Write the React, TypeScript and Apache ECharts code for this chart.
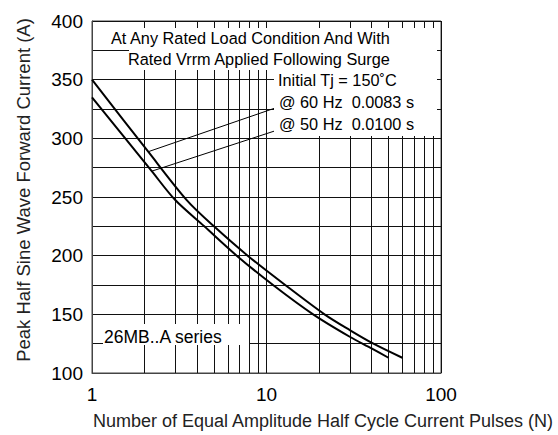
import React, { useEffect, useRef } from "react";
import * as echarts from "echarts";

// Number of pulses N and peak current (A)
const pulses60Hz = [1, 2.1, 3.49, 5.0, 7.8, 12.8, 21.5, 30, 41, 60];
const current60Hz = [350, 288.6, 247.4, 225, 200, 175, 150, 136.6, 125, 113];
const pulses50Hz = [1, 2.2, 3.0, 4.4, 6.75, 10.9, 18.5, 30, 40, 50];
const current50Hz = [335, 272, 247.4, 225, 200, 175, 150, 130.9, 121, 113];

const minorX = [2, 3, 4, 5, 6, 7, 8, 9, 20, 30, 40, 50, 60, 70, 80, 90];
const yTicks = [100, 150, 200, 250, 300, 350, 400];

// leader lines (data space): [point on curve, label end]
const leader60 = [[2.1, 288.6], [11.1, 325.6]];
const leader50 = [[2.2, 272], [11.1, 306.2]];

const FONT = "'Liberation Sans', Arial, sans-serif";

export default function App() {
  const ref = useRef<HTMLDivElement>(null);
  useEffect(() => {
    const chart = echarts.init(ref.current!, null, { renderer: "svg" });
    const lineCol = "#111";
    const curve = (name: string, xs: number[], ys: number[], leader: number[][]) => ({
      name,
      type: "line",
      data: xs.map((n, i) => [n, ys[i]]),
      showSymbol: false,
      smooth: 0.3,
      lineStyle: { color: "#000", width: 2 },
      z: 5,
      markLine: {
        silent: true,
        symbol: "none",
        label: { show: false },
        lineStyle: { color: "#000", width: 1, type: "solid" },
        data: [[{ coord: leader[0] }, { coord: leader[1] }]],
      },
    });
    chart.setOption({
      animation: false,
      backgroundColor: "#fff",
      grid: {
        left: 92,
        right: 117,
        top: 21,
        bottom: 62,
        show: true,
        borderColor: "#444",
        borderWidth: 1,
      },
      xAxis: {
        type: "log",
        logBase: 10,
        min: 1,
        max: 100,
        axisLine: { show: true, lineStyle: { color: "#444", width: 1 } },
        axisTick: { show: false },
        splitLine: { show: true, lineStyle: { color: lineCol, width: 1 } },
        axisLabel: { fontSize: 19, color: "#000", fontFamily: FONT, margin: 12 },
      },
      yAxis: {
        type: "value",
        min: yTicks[0],
        max: yTicks[yTicks.length - 1],
        interval: 50,
        axisLine: { show: true, lineStyle: { color: "#444", width: 1 } },
        axisTick: { show: false },
        splitLine: { show: true, lineStyle: { color: lineCol, width: 1 } },
        minorTick: { show: false, splitNumber: 2 },
        minorSplitLine: { show: true, lineStyle: { color: lineCol, width: 1 } },
        axisLabel: { fontSize: 19, color: "#000", fontFamily: FONT, margin: 9 },
      },
      series: [
        {
          name: "grid",
          type: "line",
          data: [],
          z: 1,
          markLine: {
            silent: true,
            symbol: "none",
            label: { show: false },
            lineStyle: { color: lineCol, width: 1, type: "solid" },
            data: minorX.map((v) => ({ xAxis: v })),
          },
        },
        curve("60 Hz", pulses60Hz, current60Hz, leader60),
        curve("50 Hz", pulses50Hz, current50Hz, leader50),
      ],
      graphic: [
        { type: "rect", z: 100, shape: { x: 129, y: 28, width: 308, height: 42 }, style: { fill: "#fff" } },
        { type: "rect", z: 100, shape: { x: 274, y: 70, width: 163, height: 66 }, style: { fill: "#fff" } },
        { type: "rect", z: 100, shape: { x: 103, y: 324, width: 146, height: 21 }, style: { fill: "#fff" } },
        { type: "rect", z: 100, shape: { x: 110, y: 28, width: 20, height: 20 }, style: { fill: "#fff" } },
        {
          type: "text", z: 101, x: 111, y: 38,
          style: { text: "At Any Rated Load Condition And With", fontSize: 16.3, fontFamily: FONT, fill: "#000", textVerticalAlign: "middle" },
        },
        {
          type: "text", z: 101, x: 128, y: 59,
          style: { text: "Rated Vrrm Applied Following Surge", fontSize: 16.3, fontFamily: FONT, fill: "#000", textVerticalAlign: "middle" },
        },
        {
          type: "text", z: 101, x: 278, y: 80,
          style: { text: "Initial Tj = 150˚C", fontSize: 16.3, fontFamily: FONT, fill: "#000", textVerticalAlign: "middle" },
        },
        {
          type: "text", z: 101, x: 279, y: 102,
          style: { text: "@ 60 Hz  0.0083 s", fontSize: 16.3, fontFamily: FONT, fill: "#000", textVerticalAlign: "middle" },
        },
        {
          type: "text", z: 101, x: 279, y: 124,
          style: { text: "@ 50 Hz  0.0100 s", fontSize: 16.3, fontFamily: FONT, fill: "#000", textVerticalAlign: "middle" },
        },
        {
          type: "text", z: 101, x: 104, y: 337,
          style: { text: "26MB..A series", fontSize: 17.5, fontFamily: FONT, fill: "#000", textVerticalAlign: "middle" },
        },
        {
          type: "text", z: 101, x: 323, y: 421,
          style: { text: "Number of Equal Amplitude Half Cycle Current Pulses (N)", fontSize: 18, fontFamily: FONT, fill: "#222", textAlign: "center", textVerticalAlign: "middle" },
        },
        {
          type: "text", z: 101, x: 23, y: 190, rotation: Math.PI / 2,
          style: { text: "Peak Half Sine Wave Forward Current (A)", fontSize: 18.5, fontFamily: FONT, fill: "#222", textAlign: "center", textVerticalAlign: "middle" },
        },
      ],
    });
    return () => chart.dispose();
  }, []);
  return (
    <div
      ref={ref}
      style={{ position: "fixed", left: 0, top: 0, width: 558, height: 435 }}
    />
  );
}
